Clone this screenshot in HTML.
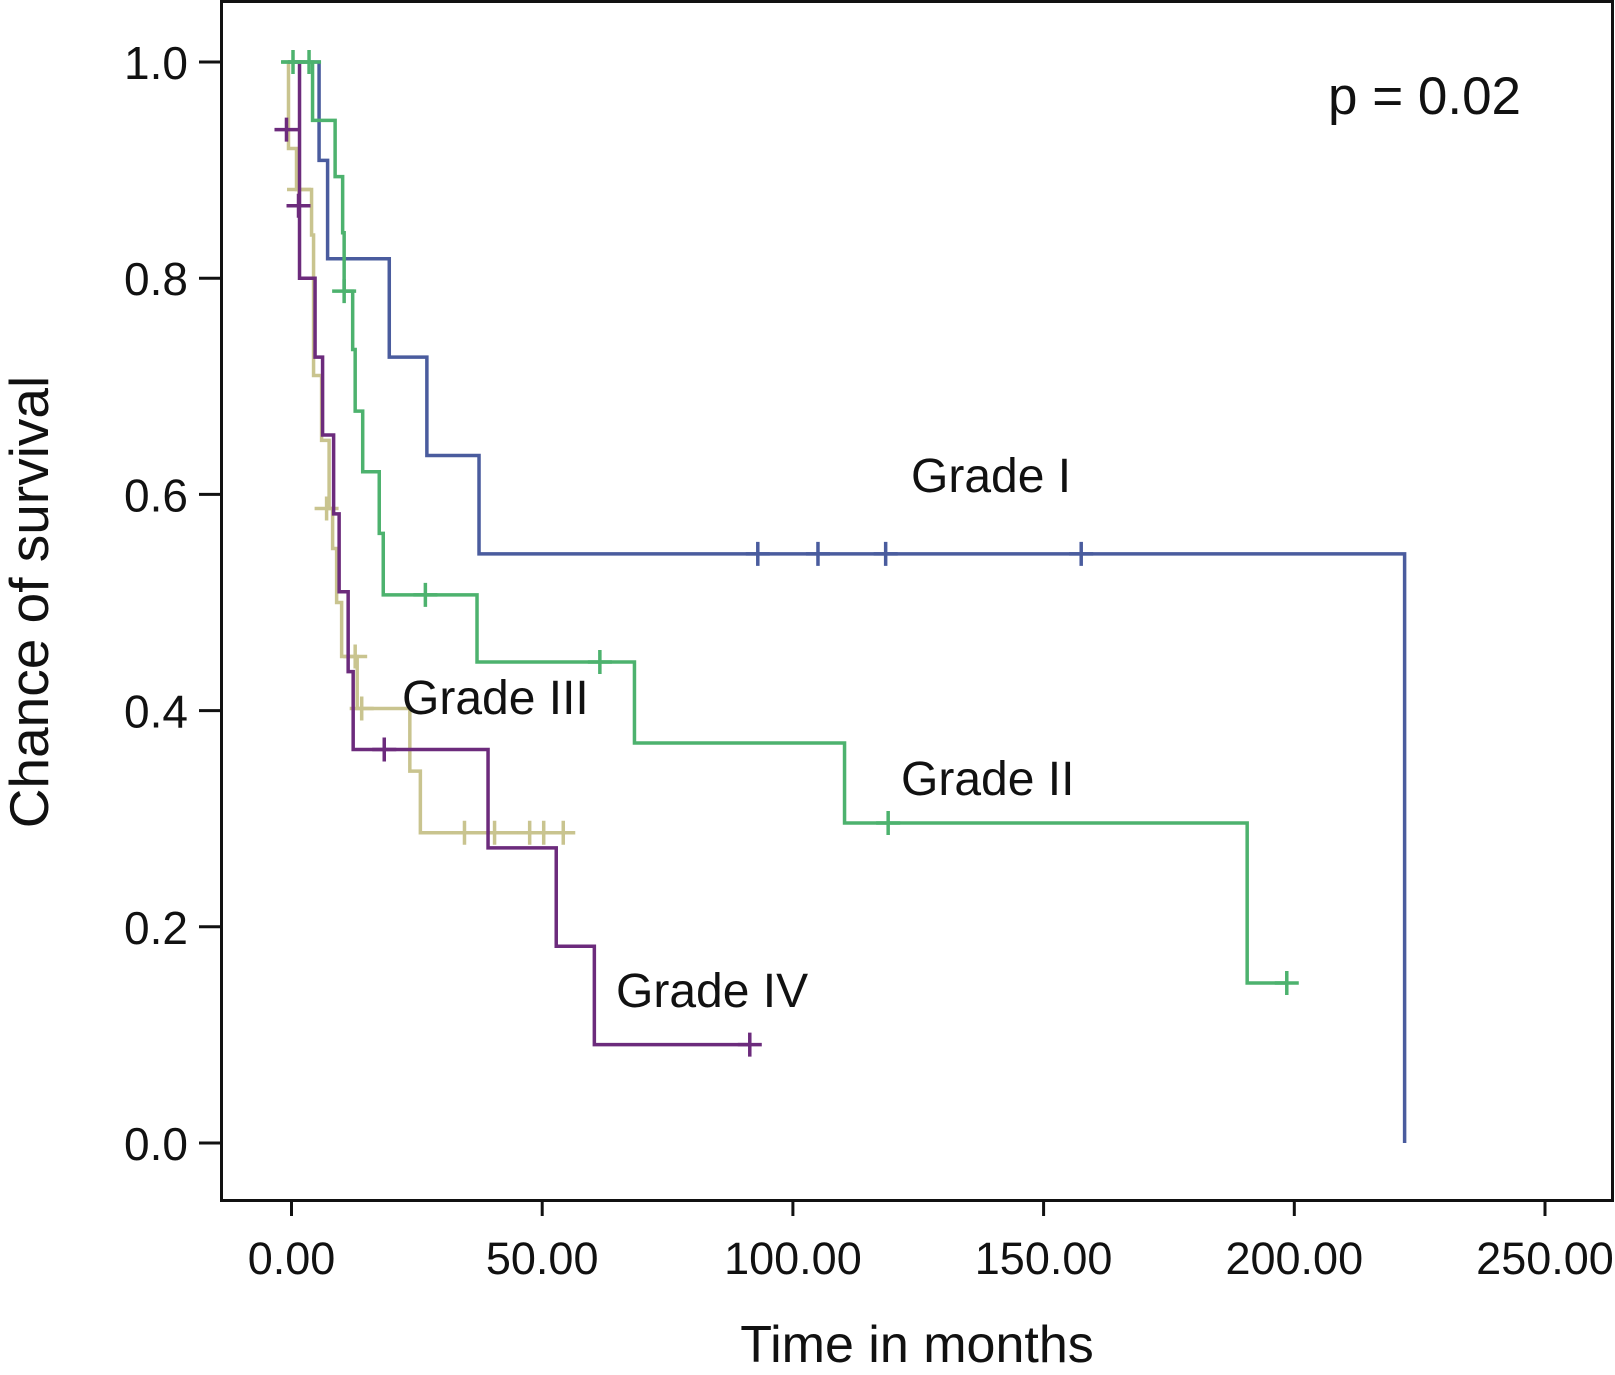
<!DOCTYPE html>
<html><head><meta charset="utf-8"><style>
html,body{margin:0;padding:0;background:#fff;}
svg{display:block;font-family:"Liberation Sans",Arial,sans-serif;}
</style></head><body>
<svg id="chart" width="1615" height="1375" viewBox="0 0 1615 1375" xmlns="http://www.w3.org/2000/svg">
<rect x="221.5" y="1.5" width="1391" height="1199" fill="none" stroke="#111" stroke-width="3"/>
<g id="axes"></g>
<g id="series"></g>
<text x="1328" y="114" font-size="53" fill="#111">p = 0.02</text>
<text x="911" y="492" font-size="48" fill="#111">Grade I</text>
<text x="901" y="795" font-size="48" fill="#111">Grade II</text>
<text x="402" y="714" font-size="48" fill="#111">Grade III</text>
<text x="616" y="1007" font-size="48" fill="#111">Grade IV</text>
<text x="917" y="1362" font-size="52" text-anchor="middle" fill="#111">Time in months</text>
<text transform="translate(48,602) rotate(-90)" font-size="55" text-anchor="middle" fill="#111">Chance of survival</text>
</svg>
<script>
const xTicks = [0, 50, 100, 150, 200, 250];
const xTickLabels = ["0.00", "50.00", "100.00", "150.00", "200.00", "250.00"];
const yTicks = [0, 0.2, 0.4, 0.6, 0.8, 1.0];
const yTickLabels = ["0.0", "0.2", "0.4", "0.6", "0.8", "1.0"];

// Grade I
const g1Times = [5.5, 7.2, 19.5, 27, 37.4, 222];
const g1Surv = [0.909, 0.818, 0.727, 0.636, 0.545, 0.0];
const g1Start = 0, g1End = 222;
const g1CensorT = [93, 105, 118.5, 157.5];
const g1CensorS = [0.545, 0.545, 0.545, 0.545];
// Grade II
const g2Times = [4.2, 8.7, 10.2, 10.5, 12.2, 12.7, 14.2, 17.5, 18.3, 37, 68.4, 110.3, 190.6];
const g2Surv = [0.946, 0.894, 0.842, 0.788, 0.734, 0.677, 0.621, 0.564, 0.507, 0.445, 0.37, 0.296, 0.148];
const g2Start = -2, g2End = 198.5;
const g2CensorT = [0.3, 3.5, 10.5, 26.7, 61.5, 119, 198.5];
const g2CensorS = [1.0, 1.0, 0.788, 0.507, 0.445, 0.296, 0.148];
// Grade III
const g3Times = [-0.6, 1.0, 4.0, 4.4, 6.0, 7.5, 8.2, 9.0, 10.0, 13.1, 23.6, 25.7];
const g3Surv = [0.92, 0.882, 0.84, 0.71, 0.65, 0.587, 0.55, 0.50, 0.45, 0.402, 0.344, 0.287];
const g3Start = -0.8, g3End = 56.5;
const g3CensorT = [1.5, 7.0, 12.7, 14.0, 34.5, 40.5, 47.5, 50.3, 54.2];
const g3CensorS = [0.882, 0.587, 0.45, 0.402, 0.287, 0.287, 0.287, 0.287, 0.287];
// Grade IV
const g4Times = [1.6, 4.7, 6.2, 8.4, 9.5, 11.3, 12.3, 39.2, 52.8, 60.4];
const g4Surv = [0.80, 0.727, 0.655, 0.582, 0.51, 0.436, 0.364, 0.273, 0.182, 0.091];
const g4Start = -0.7, g4End = 91.4;
const g4CensorT = [-1.0, 1.4, 18.5, 91.4];
const g4CensorS = [0.9375, 0.867, 0.364, 0.091];

const NS = "http://www.w3.org/2000/svg";
const X0 = 291.5, XS = (1545 - 291.5) / 250;
const Y0 = 1143, YS = 1081;
function xs(v){ return X0 + v * XS; }
function ys(v){ return Y0 - v * YS; }
function mk(tag, attrs, parent){
  const e = document.createElementNS(NS, tag);
  for (const k in attrs) e.setAttribute(k, attrs[k]);
  parent.appendChild(e); return e;
}
const axes = document.getElementById("axes");
xTicks.forEach((t, i) => {
  const l = mk("line", {x1: xs(t), x2: xs(t), y1: 1201, y2: 1216, stroke: "#111", "stroke-width": 3}, axes);
  
  
  const tx = mk("text", {x: xs(t), y: 1274, "font-size": 45, "text-anchor": "middle", fill: "#111"}, axes);
  tx.textContent = xTickLabels[i];
  
  
});
yTicks.forEach((t, i) => {
  const l = mk("line", {x1: 199, x2: 221, y1: ys(t), y2: ys(t), stroke: "#111", "stroke-width": 3}, axes);
  
  
  const tx = mk("text", {x: 188, y: ys(t) + 17, "font-size": 46, "text-anchor": "end", fill: "#111"}, axes);
  tx.textContent = yTickLabels[i];
  
  
});
const sg = document.getElementById("series");
function drawSeries(name, color, start, times, surv, end, ct, cs){
  let d = "M" + xs(start) + " " + ys(1);
  let cur = 1;
  times.forEach((t, i) => {
    d += " L" + xs(t) + " " + ys(cur) + " L" + xs(t) + " " + ys(surv[i]);
    cur = surv[i];
  });
  d += " L" + xs(end) + " " + ys(cur);
  const p = mk("path", {d: d, fill: "none", stroke: color, "stroke-width": 3.5}, sg);
  
  
  ct.forEach((t, i) => {
    const g = mk("path", {d: "M" + (xs(t) - 12) + " " + ys(cs[i]) + " H" + (xs(t) + 12) + " M" + xs(t) + " " + (ys(cs[i]) - 12) + " V" + (ys(cs[i]) + 12), stroke: color, "stroke-width": 3.5, fill: "none"}, sg);
    
    
  });
}
drawSeries("grade-3", "#c9c48f", g3Start, g3Times, g3Surv, g3End, g3CensorT, g3CensorS);
drawSeries("grade-4", "#6c2b7c", g4Start, g4Times, g4Surv, g4End, g4CensorT, g4CensorS);
drawSeries("grade-1", "#4a5c9e", g1Start, g1Times, g1Surv, g1End, g1CensorT, g1CensorS);
drawSeries("grade-2", "#4db26e", g2Start, g2Times, g2Surv, g2End, g2CensorT, g2CensorS);
</script>
</body></html>
